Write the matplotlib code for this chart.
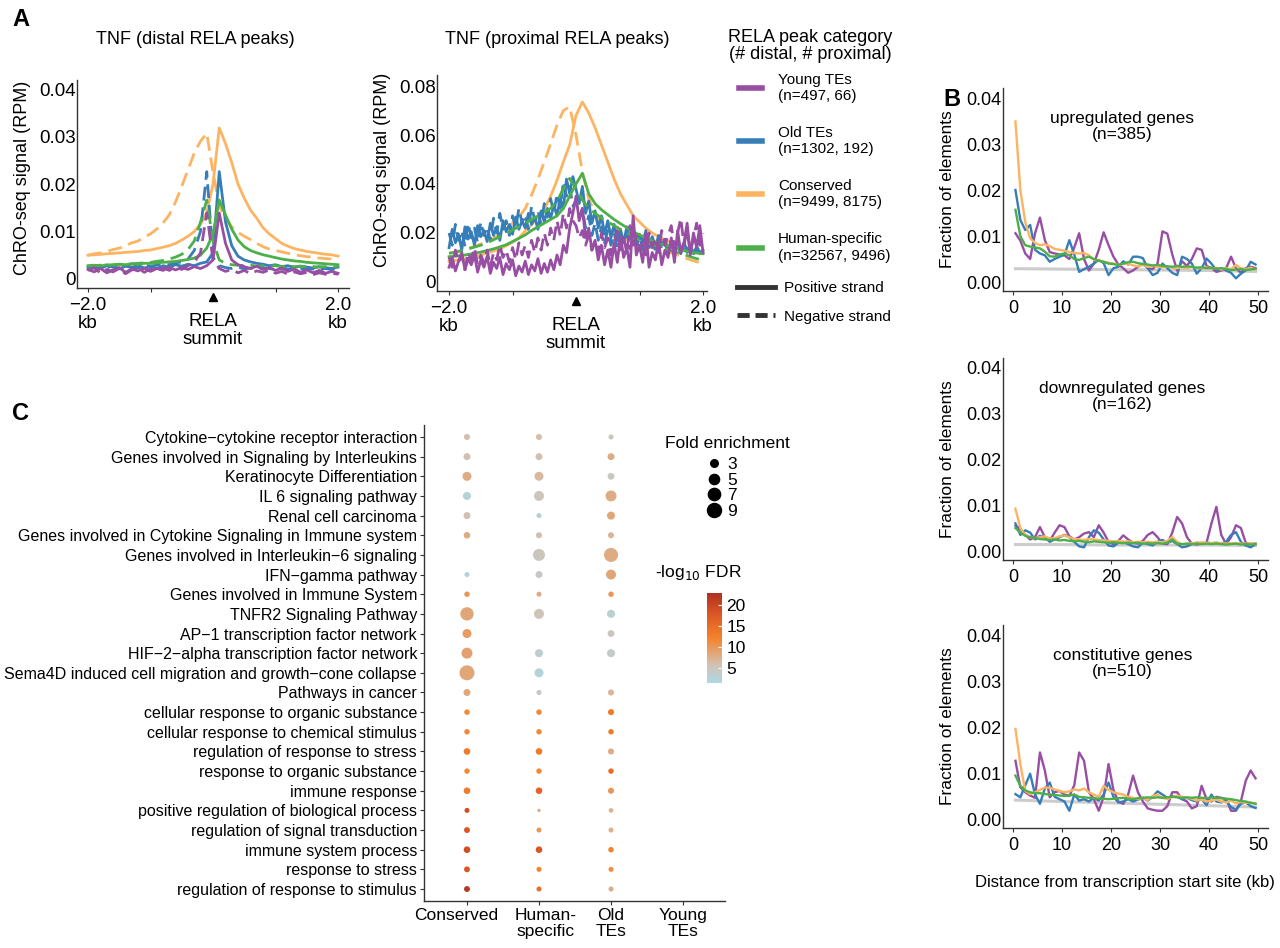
import numpy as np
import matplotlib
matplotlib.use('Agg')
import matplotlib.pyplot as plt
from matplotlib.colors import LinearSegmentedColormap, Normalize
from matplotlib.cm import ScalarMappable
from matplotlib.lines import Line2D
from matplotlib.transforms import ScaledTranslation

plt.rcParams['font.family'] = ['Liberation Sans', 'DejaVu Sans']

# ---------------- data ----------------
categories = ['Young TEs', 'Old TEs', 'Conserved', 'Human-specific']
category_n = ['(n=497, 66)', '(n=1302, 192)', '(n=9499, 8175)', '(n=32567, 9496)']
category_colors = ['#984EA3', '#377EB8', '#FDB462', '#4DAF4A']

# panel A: ChRO-seq profiles around RELA summit (-2 .. 2 kb), distal peaks
distal_cons_pos = [0.0050, 0.0051, 0.0052, 0.0053, 0.0054, 0.0055, 0.0056, 0.0057, 0.0058, 0.0060,
                   0.0061, 0.0064, 0.0067, 0.0070, 0.0075, 0.0082, 0.0090, 0.0100, 0.0115, 0.0140,
                   0.0200, 0.0318, 0.0285, 0.0245, 0.0200, 0.0170, 0.0145, 0.0128, 0.0108, 0.0095,
                   0.0085, 0.0075, 0.0069, 0.0064, 0.0061, 0.0058, 0.0056, 0.0054, 0.0052, 0.0051, 0.0048]
distal_cons_neg = [0.0050, 0.0053, 0.0055, 0.0058, 0.0062, 0.0065, 0.0070, 0.0076, 0.0080, 0.0088,
                   0.0095, 0.0105, 0.0118, 0.0135, 0.0162, 0.0195, 0.0230, 0.0265, 0.0290, 0.0307,
                   0.0225, 0.0155, 0.0125, 0.0110, 0.0098, 0.0090, 0.0083, 0.0075, 0.0068, 0.0063,
                   0.0060, 0.0057, 0.0054, 0.0051, 0.0049, 0.0047, 0.0046, 0.0044, 0.0043, 0.0042, 0.0040]
distal_old_pos = [0.0024, 0.0027, 0.0022, 0.0028, 0.0025, 0.0021, 0.0027, 0.0024, 0.0029, 0.0023,
                  0.0026, 0.0022, 0.0028, 0.0025, 0.0030, 0.0027, 0.0031, 0.0028, 0.0033, 0.0036,
                  0.0055, 0.0226, 0.0120, 0.0070, 0.0048, 0.0040, 0.0036, 0.0033, 0.0031, 0.0028,
                  0.0030, 0.0026, 0.0028, 0.0024, 0.0027, 0.0025, 0.0023, 0.0026, 0.0024, 0.0022, 0.0025]
distal_old_neg = [0.0026, 0.0023, 0.0029, 0.0024, 0.0027, 0.0022, 0.0028, 0.0025, 0.0023, 0.0030,
                  0.0027, 0.0029, 0.0032, 0.0030, 0.0034, 0.0036, 0.0042, 0.0060, 0.0100, 0.0226,
                  0.0045, 0.0028, 0.0024, 0.0022, 0.0025, 0.0021, 0.0023, 0.0020, 0.0024, 0.0022,
                  0.0020, 0.0023, 0.0021, 0.0019, 0.0022, 0.0020, 0.0021, 0.0019, 0.0022, 0.0020, 0.0021]
distal_human_pos = [0.0028, 0.0029, 0.0027, 0.0030, 0.0029, 0.0031, 0.0030, 0.0032, 0.0031, 0.0033,
                    0.0033, 0.0034, 0.0035, 0.0036, 0.0037, 0.0039, 0.0041, 0.0044, 0.0050, 0.0065,
                    0.0095, 0.0166, 0.0135, 0.0105, 0.0082, 0.0068, 0.0060, 0.0055, 0.0051, 0.0048,
                    0.0045, 0.0042, 0.0040, 0.0038, 0.0037, 0.0035, 0.0034, 0.0033, 0.0032, 0.0031, 0.0030]
distal_human_neg = [0.0027, 0.0028, 0.0029, 0.0028, 0.0030, 0.0031, 0.0030, 0.0032, 0.0033, 0.0034,
                    0.0035, 0.0037, 0.0039, 0.0042, 0.0046, 0.0052, 0.0062, 0.0080, 0.0120, 0.0166,
                    0.0080, 0.0040, 0.0033, 0.0030, 0.0029, 0.0028, 0.0029, 0.0027, 0.0028, 0.0027,
                    0.0028, 0.0026, 0.0027, 0.0026, 0.0027, 0.0025, 0.0026, 0.0025, 0.0026, 0.0025, 0.0026]
distal_young_pos = [0.0020, 0.0015, 0.0022, 0.0013, 0.0019, 0.0024, 0.0014, 0.0021, 0.0017, 0.0023,
                    0.0016, 0.0022, 0.0018, 0.0025, 0.0019, 0.0024, 0.0020, 0.0026, 0.0022, 0.0028,
                    0.0040, 0.0139, 0.0075, 0.0040, 0.0030, 0.0026, 0.0022, 0.0027, 0.0020, 0.0024,
                    0.0018, 0.0023, 0.0016, 0.0021, 0.0014, 0.0019, 0.0013, 0.0018, 0.0012, 0.0016, 0.0012]
distal_young_neg = [0.0018, 0.0024, 0.0012, 0.0020, 0.0015, 0.0022, 0.0011, 0.0019, 0.0023, 0.0014,
                    0.0021, 0.0016, 0.0024, 0.0018, 0.0026, 0.0020, 0.0028, 0.0035, 0.0055, 0.0139,
                    0.0040, 0.0022, 0.0016, 0.0020, 0.0013, 0.0018, 0.0011, 0.0017, 0.0014, 0.0019,
                    0.0012, 0.0016, 0.0010, 0.0015, 0.0011, 0.0014, 0.0009, 0.0013, 0.0010, 0.0012, 0.0010]

# proximal peaks
prox_cons_pos = [0.0083, 0.0088, 0.0092, 0.0097, 0.0102, 0.0110, 0.0118, 0.0126, 0.0135, 0.0148,
                 0.0162, 0.0180, 0.0208, 0.0235, 0.0262, 0.0295, 0.0350, 0.0415, 0.0490, 0.0560,
                 0.0680, 0.0735, 0.0690, 0.0630, 0.0560, 0.0490, 0.0420, 0.0360, 0.0315, 0.0270,
                 0.0245, 0.0220, 0.0200, 0.0185, 0.0172, 0.0160, 0.0148, 0.0138, 0.0130, 0.0122, 0.0117]
prox_cons_neg = [0.0117, 0.0122, 0.0130, 0.0137, 0.0145, 0.0155, 0.0165, 0.0178, 0.0195, 0.0215,
                 0.0240, 0.0265, 0.0300, 0.0355, 0.0420, 0.0490, 0.0565, 0.0640, 0.0700, 0.0715,
                 0.0600, 0.0450, 0.0340, 0.0280, 0.0245, 0.0220, 0.0200, 0.0185, 0.0172, 0.0162,
                 0.0155, 0.0148, 0.0140, 0.0132, 0.0125, 0.0118, 0.0110, 0.0100, 0.0090, 0.0082, 0.0076]
prox_human_pos = [0.0103, 0.0105, 0.0108, 0.0112, 0.0117, 0.0122, 0.0128, 0.0135, 0.0143, 0.0152,
                  0.0165, 0.0178, 0.0192, 0.0210, 0.0225, 0.0240, 0.0255, 0.0270, 0.0300, 0.0350,
                  0.0400, 0.0444, 0.0360, 0.0320, 0.0295, 0.0275, 0.0255, 0.0238, 0.0222, 0.0205,
                  0.0192, 0.0180, 0.0168, 0.0158, 0.0150, 0.0142, 0.0135, 0.0128, 0.0122, 0.0118, 0.0115]
prox_human_neg = [0.0117, 0.0121, 0.0128, 0.0135, 0.0142, 0.0150, 0.0160, 0.0172, 0.0185, 0.0198,
                  0.0212, 0.0226, 0.0240, 0.0255, 0.0270, 0.0285, 0.0300, 0.0330, 0.0380, 0.0423,
                  0.0380, 0.0335, 0.0300, 0.0280, 0.0262, 0.0245, 0.0230, 0.0215, 0.0200, 0.0185,
                  0.0172, 0.0162, 0.0152, 0.0143, 0.0135, 0.0127, 0.0120, 0.0112, 0.0103, 0.0095, 0.0090]
prox_old_pos = [0.0140, 0.0215, 0.0160, 0.0195, 0.0130, 0.0225, 0.0175, 0.0205, 0.0150, 0.0230,
                0.0185, 0.0210, 0.0165, 0.0240, 0.0190, 0.0225, 0.0170, 0.0250, 0.0205, 0.0235,
                0.0195, 0.0265, 0.0215, 0.0250, 0.0220, 0.0280, 0.0235, 0.0265, 0.0215, 0.0290,
                0.0245, 0.0300, 0.0260, 0.0315, 0.0270, 0.0340, 0.0300, 0.0420, 0.0360, 0.0430,
                0.0380, 0.0320, 0.0390, 0.0280, 0.0330, 0.0240, 0.0290, 0.0220, 0.0270, 0.0195,
                0.0250, 0.0180, 0.0235, 0.0170, 0.0215, 0.0160, 0.0225, 0.0175, 0.0205, 0.0150,
                0.0195, 0.0160, 0.0210, 0.0145, 0.0185, 0.0140, 0.0190, 0.0150, 0.0175, 0.0130,
                0.0170, 0.0140, 0.0165, 0.0125, 0.0160, 0.0130, 0.0150, 0.0115, 0.0145, 0.0120, 0.0130]
prox_old_neg = [0.0200, 0.0150, 0.0235, 0.0170, 0.0210, 0.0145, 0.0240, 0.0180, 0.0220, 0.0160,
                0.0245, 0.0190, 0.0225, 0.0170, 0.0260, 0.0200, 0.0280, 0.0215, 0.0250, 0.0190,
                0.0270, 0.0220, 0.0300, 0.0240, 0.0275, 0.0215, 0.0310, 0.0250, 0.0290, 0.0235,
                0.0320, 0.0265, 0.0340, 0.0280, 0.0360, 0.0300, 0.0410, 0.0350, 0.0390, 0.0310,
                0.0330, 0.0260, 0.0300, 0.0220, 0.0270, 0.0190, 0.0240, 0.0170, 0.0225, 0.0160,
                0.0210, 0.0150, 0.0200, 0.0140, 0.0190, 0.0155, 0.0205, 0.0135, 0.0180, 0.0145,
                0.0190, 0.0130, 0.0175, 0.0140, 0.0185, 0.0125, 0.0170, 0.0135, 0.0160, 0.0120,
                0.0165, 0.0125, 0.0150, 0.0115, 0.0155, 0.0120, 0.0140, 0.0110, 0.0135, 0.0115, 0.0125]
prox_young_pos = [0.0060, 0.0100, 0.0045, 0.0085, 0.0120, 0.0050, 0.0095, 0.0070, 0.0110, 0.0040,
                  0.0090, 0.0060, 0.0105, 0.0035, 0.0080, 0.0055, 0.0100, 0.0030, 0.0075, 0.0050,
                  0.0090, 0.0025, 0.0065, 0.0040, 0.0085, 0.0030, 0.0070, 0.0045, 0.0095, 0.0035,
                  0.0075, 0.0040, 0.0090, 0.0050, 0.0110, 0.0070, 0.0150, 0.0120, 0.0220, 0.0280,
                  0.0350, 0.0250, 0.0300, 0.0180, 0.0220, 0.0130, 0.0170, 0.0090, 0.0150, 0.0070,
                  0.0130, 0.0060, 0.0160, 0.0080, 0.0190, 0.0100, 0.0140, 0.0060, 0.0270, 0.0110,
                  0.0150, 0.0080, 0.0200, 0.0060, 0.0120, 0.0090, 0.0170, 0.0070, 0.0130, 0.0100,
                  0.0180, 0.0080, 0.0210, 0.0120, 0.0160, 0.0240, 0.0110, 0.0200, 0.0140, 0.0230, 0.0120]
prox_young_neg = [0.0100, 0.0060, 0.0130, 0.0080, 0.0110, 0.0050, 0.0120, 0.0090, 0.0140, 0.0070,
                  0.0110, 0.0080, 0.0130, 0.0060, 0.0120, 0.0090, 0.0150, 0.0100, 0.0130, 0.0080,
                  0.0140, 0.0090, 0.0160, 0.0110, 0.0150, 0.0100, 0.0170, 0.0120, 0.0180, 0.0130,
                  0.0200, 0.0150, 0.0220, 0.0170, 0.0250, 0.0190, 0.0280, 0.0220, 0.0300, 0.0250,
                  0.0230, 0.0180, 0.0210, 0.0150, 0.0190, 0.0130, 0.0170, 0.0120, 0.0200, 0.0140,
                  0.0180, 0.0110, 0.0160, 0.0210, 0.0130, 0.0180, 0.0120, 0.0230, 0.0150, 0.0190,
                  0.0130, 0.0170, 0.0110, 0.0200, 0.0140, 0.0180, 0.0120, 0.0210, 0.0150, 0.0190,
                  0.0230, 0.0140, 0.0200, 0.0260, 0.0150, 0.0210, 0.0120, 0.0180, 0.0240, 0.0150, 0.0200]

# panel B: fraction of elements vs distance from TSS (kb)
tss_kb = np.arange(0.5, 50, 1.0)
bg_kb = [0.5, 10, 20, 30, 40, 49.5]

up_young = [0.0106, 0.0090, 0.0062, 0.0050, 0.0106, 0.0140, 0.0091, 0.0065, 0.0062, 0.0060,
            0.0058, 0.0050, 0.0075, 0.0106, 0.0050, 0.0025, 0.0040, 0.0070, 0.0108, 0.0080,
            0.0055, 0.0038, 0.0030, 0.0020, 0.0025, 0.0033, 0.0040, 0.0030, 0.0028, 0.0040,
            0.0110, 0.0105, 0.0060, 0.0025, 0.0045, 0.0035, 0.0050, 0.0073, 0.0070, 0.0035,
            0.0030, 0.0022, 0.0025, 0.0030, 0.0055, 0.0030, 0.0020, 0.0030, 0.0033, 0.0030]
up_old = [0.0200, 0.0135, 0.0113, 0.0124, 0.0070, 0.0062, 0.0058, 0.0044, 0.0050, 0.0055,
          0.0059, 0.0091, 0.0060, 0.0022, 0.0028, 0.0033, 0.0040, 0.0048, 0.0041, 0.0015,
          0.0030, 0.0033, 0.0045, 0.0038, 0.0055, 0.0055, 0.0052, 0.0030, 0.0015, 0.0020,
          0.0040, 0.0030, 0.0020, 0.0015, 0.0055, 0.0050, 0.0040, 0.0018, 0.0030, 0.0051,
          0.0040, 0.0025, 0.0030, 0.0025, 0.0020, 0.0008, 0.0018, 0.0025, 0.0044, 0.0038]
up_cons = [0.0349, 0.0200, 0.0130, 0.0095, 0.0085, 0.0080, 0.0082, 0.0078, 0.0072, 0.0070,
           0.0068, 0.0065, 0.0063, 0.0062, 0.0063, 0.0058, 0.0048, 0.0047, 0.0044, 0.0042,
           0.0040, 0.0037, 0.0039, 0.0040, 0.0036, 0.0034, 0.0037, 0.0033, 0.0035, 0.0033,
           0.0032, 0.0034, 0.0031, 0.0030, 0.0032, 0.0030, 0.0033, 0.0031, 0.0030, 0.0032,
           0.0029, 0.0031, 0.0027, 0.0030, 0.0028, 0.0037, 0.0030, 0.0028, 0.0031, 0.0027]
up_human = [0.0157, 0.0100, 0.0080, 0.0077, 0.0075, 0.0073, 0.0066, 0.0056, 0.0055, 0.0060,
            0.0062, 0.0058, 0.0050, 0.0048, 0.0052, 0.0055, 0.0050, 0.0046, 0.0044, 0.0040,
            0.0039, 0.0037, 0.0040, 0.0043, 0.0044, 0.0041, 0.0039, 0.0038, 0.0036, 0.0037,
            0.0035, 0.0034, 0.0033, 0.0035, 0.0033, 0.0034, 0.0033, 0.0031, 0.0032, 0.0030,
            0.0031, 0.0029, 0.0030, 0.0028, 0.0026, 0.0027, 0.0028, 0.0026, 0.0027, 0.0029]
up_bg = [0.0029, 0.0028, 0.0027, 0.0026, 0.0025, 0.0023]

down_young = [0.0055, 0.0048, 0.0035, 0.0025, 0.0030, 0.0052, 0.0030, 0.0022, 0.0040, 0.0056,
              0.0052, 0.0032, 0.0025, 0.0030, 0.0038, 0.0041, 0.0030, 0.0056, 0.0040, 0.0020,
              0.0015, 0.0022, 0.0034, 0.0025, 0.0018, 0.0016, 0.0022, 0.0035, 0.0041, 0.0030,
              0.0016, 0.0015, 0.0040, 0.0074, 0.0060, 0.0030, 0.0016, 0.0014, 0.0016, 0.0018,
              0.0060, 0.0096, 0.0035, 0.0015, 0.0030, 0.0056, 0.0050, 0.0018, 0.0015, 0.0016]
down_old = [0.0060, 0.0035, 0.0045, 0.0040, 0.0025, 0.0033, 0.0030, 0.0020, 0.0025, 0.0030,
            0.0035, 0.0030, 0.0020, 0.0010, 0.0008, 0.0030, 0.0045, 0.0040, 0.0025, 0.0012,
            0.0010, 0.0018, 0.0020, 0.0015, 0.0010, 0.0008, 0.0018, 0.0015, 0.0012, 0.0020,
            0.0024, 0.0018, 0.0022, 0.0015, 0.0008, 0.0010, 0.0015, 0.0018, 0.0016, 0.0018,
            0.0017, 0.0018, 0.0016, 0.0020, 0.0035, 0.0041, 0.0020, 0.0012, 0.0008, 0.0015]
down_cons = [0.0092, 0.0050, 0.0035, 0.0030, 0.0028, 0.0030, 0.0032, 0.0027, 0.0028, 0.0032,
             0.0034, 0.0030, 0.0026, 0.0025, 0.0024, 0.0026, 0.0025, 0.0024, 0.0023, 0.0022,
             0.0021, 0.0022, 0.0020, 0.0021, 0.0019, 0.0020, 0.0019, 0.0020, 0.0019, 0.0020,
             0.0019, 0.0022, 0.0030, 0.0020, 0.0014, 0.0016, 0.0017, 0.0018, 0.0019, 0.0018,
             0.0017, 0.0018, 0.0017, 0.0016, 0.0017, 0.0017, 0.0016, 0.0016, 0.0017, 0.0015]
down_human = [0.0050, 0.0040, 0.0033, 0.0030, 0.0028, 0.0026, 0.0025, 0.0024, 0.0025, 0.0023,
              0.0024, 0.0022, 0.0021, 0.0022, 0.0020, 0.0019, 0.0021, 0.0020, 0.0019, 0.0018,
              0.0019, 0.0018, 0.0017, 0.0018, 0.0017, 0.0018, 0.0016, 0.0017, 0.0016, 0.0017,
              0.0016, 0.0018, 0.0025, 0.0016, 0.0015, 0.0016, 0.0015, 0.0016, 0.0015, 0.0016,
              0.0015, 0.0016, 0.0015, 0.0014, 0.0015, 0.0016, 0.0014, 0.0015, 0.0014, 0.0015]
down_bg = [0.0014, 0.0014, 0.0013, 0.0013, 0.0013, 0.0012]

const_young = [0.0128, 0.0071, 0.0060, 0.0053, 0.0048, 0.0146, 0.0107, 0.0049, 0.0060, 0.0063,
               0.0055, 0.0052, 0.0075, 0.0146, 0.0128, 0.0060, 0.0045, 0.0020, 0.0050, 0.0121,
               0.0065, 0.0040, 0.0035, 0.0055, 0.0096, 0.0060, 0.0040, 0.0025, 0.0022, 0.0020,
               0.0020, 0.0030, 0.0060, 0.0060, 0.0045, 0.0040, 0.0025, 0.0030, 0.0074, 0.0045,
               0.0040, 0.0050, 0.0048, 0.0045, 0.0020, 0.0020, 0.0040, 0.0085, 0.0107, 0.0090]
const_old = [0.0056, 0.0049, 0.0075, 0.0100, 0.0055, 0.0035, 0.0068, 0.0081, 0.0050, 0.0045,
             0.0040, 0.0020, 0.0055, 0.0042, 0.0045, 0.0040, 0.0048, 0.0042, 0.0055, 0.0081,
             0.0050, 0.0038, 0.0040, 0.0045, 0.0040, 0.0044, 0.0048, 0.0042, 0.0050, 0.0062,
             0.0055, 0.0048, 0.0052, 0.0050, 0.0045, 0.0048, 0.0043, 0.0040, 0.0045, 0.0032,
             0.0055, 0.0040, 0.0038, 0.0042, 0.0028, 0.0022, 0.0035, 0.0038, 0.0030, 0.0026]
const_cons = [0.0197, 0.0121, 0.0063, 0.0056, 0.0060, 0.0065, 0.0070, 0.0070, 0.0066, 0.0063,
              0.0060, 0.0062, 0.0066, 0.0064, 0.0068, 0.0060, 0.0055, 0.0050, 0.0074, 0.0065,
              0.0060, 0.0057, 0.0055, 0.0050, 0.0048, 0.0045, 0.0048, 0.0043, 0.0052, 0.0055,
              0.0048, 0.0045, 0.0050, 0.0053, 0.0050, 0.0048, 0.0046, 0.0042, 0.0044, 0.0040,
              0.0042, 0.0044, 0.0040, 0.0038, 0.0042, 0.0036, 0.0039, 0.0037, 0.0038, 0.0036]
const_human = [0.0096, 0.0074, 0.0064, 0.0060, 0.0058, 0.0058, 0.0056, 0.0055, 0.0054, 0.0053,
               0.0052, 0.0053, 0.0055, 0.0050, 0.0049, 0.0048, 0.0047, 0.0046, 0.0046, 0.0045,
               0.0046, 0.0047, 0.0048, 0.0046, 0.0045, 0.0047, 0.0048, 0.0049, 0.0048, 0.0049,
               0.0048, 0.0049, 0.0050, 0.0049, 0.0048, 0.0049, 0.0048, 0.0049, 0.0048, 0.0047,
               0.0049, 0.0048, 0.0047, 0.0046, 0.0045, 0.0043, 0.0041, 0.0040, 0.0037, 0.0035]
const_bg = [0.0043, 0.0040, 0.0037, 0.0034, 0.0031, 0.0028]

# panel C: pathway enrichment
pathways = ['Cytokine\u2212cytokine receptor interaction',
            'Genes involved in Signaling by Interleukins',
            'Keratinocyte Differentiation',
            'IL 6 signaling pathway',
            'Renal cell carcinoma',
            'Genes involved in Cytokine Signaling in Immune system',
            'Genes involved in Interleukin\u22126 signaling',
            'IFN\u2212gamma pathway',
            'Genes involved in Immune System',
            'TNFR2 Signaling Pathway',
            'AP\u22121 transcription factor network',
            'HIF\u22122\u2212alpha transcription factor network',
            'Sema4D induced cell migration and growth\u2212cone collapse',
            'Pathways in cancer',
            'cellular response to organic substance',
            'cellular response to chemical stimulus',
            'regulation of response to stress',
            'response to organic substance',
            'immune response',
            'positive regulation of biological process',
            'regulation of signal transduction',
            'immune system process',
            'response to stress',
            'regulation of response to stimulus']
groups = ['Conserved', 'Human-\nspecific', 'Old\nTEs', 'Young\nTEs']
nan = np.nan
fold_conserved = [2.1, 2.6, 4.0, 3.3, 2.6, 2.4, nan, 1.6, 1.8, 8.2, 4.0, 5.7, 10.2, 2.6,
                  1.8, 1.8, 2.4, 1.8, 2.4, 1.6, 2.0, 2.4, 2.0, 2.0]
fold_human = [2.1, 2.6, 4.0, 4.8, 1.6, 2.1, 6.7, 2.6, 1.6, 4.8, nan, 3.3, 4.0, 1.6,
              1.8, 1.8, 2.4, 1.8, 2.4, 1.0, 1.6, 2.4, 1.6, 1.6]
fold_old = [1.6, 2.6, 2.5, 5.7, 3.3, 2.1, 9.0, 4.8, 1.8, 3.3, 2.5, 3.3, nan, 2.1,
            2.1, 1.8, 2.1, 1.8, 2.1, 1.4, 1.6, 1.8, 1.6, 1.6]
fold_young = [nan] * 24
fdr_conserved = [6, 6, 8, 2.5, 6, 8, nan, 2.5, 10, 8.5, 9.5, 9, 8.5, 8.5,
                 11.5, 11.5, 13, 11.5, 13, 19, 18, 19, 18, 22]
fdr_human = [6, 6, 6.5, 5, 2.5, 6, 5, 4.5, 8, 5.5, nan, 3.5, 2.5, 4.5,
             11.5, 11.5, 13, 11.5, 16, 8, 10, 18, 12, 15]
fdr_old = [5, 8, 4.5, 8, 8.5, 7, 8, 8.5, 10, 3, 5, 4, nan, 7,
           13, 13, 8, 15, 10, 7.5, 7.5, 12, 11, 8]
fdr_young = [nan] * 24
fold_breaks = [3, 5, 7, 9]


# ---------------- helpers ----------------
def box(x0, y0, x1, y1):
    return [x0 / 1280, 1 - y1 / 948, (x1 - x0) / 1280, (y1 - y0) / 948]


def classic(ax):
    for s in ['top', 'right']:
        ax.spines[s].set_visible(False)
    for s in ['left', 'bottom']:
        ax.spines[s].set_color('#333333')
        ax.spines[s].set_linewidth(1.0)
    ax.tick_params(colors='#333333', labelcolor='black', length=3, width=0.8)


def dot_size(f):
    return 12 * np.asarray(f, dtype=float) - 6


fig = plt.figure(figsize=(12.8, 9.48), dpi=100)

# ---------------- panel A ----------------
color_of = dict(zip(categories, category_colors))
distal = {'Conserved': (distal_cons_pos, distal_cons_neg),
          'Old TEs': (distal_old_pos, distal_old_neg),
          'Human-specific': (distal_human_pos, distal_human_neg),
          'Young TEs': (distal_young_pos, distal_young_neg)}
proximal = {'Conserved': (prox_cons_pos, prox_cons_neg),
            'Old TEs': (prox_old_pos, prox_old_neg),
            'Human-specific': (prox_human_pos, prox_human_neg),
            'Young TEs': (prox_young_pos, prox_young_neg)}
draw_order = ['Conserved', 'Old TEs', 'Human-specific', 'Young TEs']


def profile(ax, curves, ylim, yticks, ylabels, xlim):
    for cat in draw_order:
        pos, neg = curves[cat]
        ax.plot(np.linspace(-2, 2, len(neg)), neg, color=color_of[cat], lw=2.0,
                ls=(0, (5, 2.5)))
        ax.plot(np.linspace(-2, 2, len(pos)), pos, color=color_of[cat], lw=2.0)
    classic(ax)
    ax.set_xlim(*xlim)
    ax.set_ylim(*ylim)
    ax.set_yticks(yticks)
    ax.set_yticklabels(ylabels, fontsize=13.5)
    ax.tick_params(axis='y', length=0, pad=1)
    ax.set_xticks([-2, -1, 1, 2])
    ax.set_xticklabels(['\u22122.0\nkb', '', '', '2.0\nkb'], fontsize=13.5, linespacing=1.05)
    ax.plot([0], [-0.045], marker='^', color='black', ms=6, clip_on=False,
            transform=ax.get_xaxis_transform())
    ax.text(0, -0.12, 'RELA\nsummit', transform=ax.get_xaxis_transform(),
            ha='center', va='top', fontsize=13.5, linespacing=1.05)
    ax.set_ylabel('ChRO-seq signal (RPM)', fontsize=13)


axA1 = fig.add_axes(box(77, 80, 349, 288))
profile(axA1, distal, (-0.0019, 0.0419), [0, 0.01, 0.02, 0.03, 0.04],
        ['0', '0.01', '0.02', '0.03', '0.04'], (-2.176, 2.176))
axA1.yaxis.set_label_coords(-0.17, 0.53)
axA2 = fig.add_axes(box(437, 75, 707, 291))
profile(axA2, proximal, (-0.0037, 0.0845), [0, 0.02, 0.04, 0.06, 0.08],
        ['0', '0.02', '0.04', '0.06', '0.08'], (-2.19, 2.063))
axA2.yaxis.set_label_coords(-0.17, 0.56)

fig.text(195 / 1280, 1 - 40 / 948, 'TNF (distal RELA peaks)', ha='center', va='center', fontsize=13)
fig.text(557 / 1280, 1 - 40 / 948, 'TNF (proximal RELA peaks)', ha='center', va='center', fontsize=13)

fig.text(810 / 1280, 1 - 46 / 948, 'RELA peak category\n(# distal, # proximal)', ha='center',
         va='center', fontsize=13, linespacing=1.05)
cat_handles = [Line2D([], [], color=c, lw=4) for c in category_colors]
cat_labels = [f'{c}\n{n}' for c, n in zip(categories, category_n)]
fig.legend(cat_handles, cat_labels, loc='upper left',
           bbox_to_anchor=(739 / 1280, 1 - 73 / 948), frameon=False,
           fontsize=11, labelspacing=1.5, handlelength=1.5,
           handletextpad=1.05, borderpad=0, borderaxespad=0)
strand_handles = [Line2D([], [], color='#333333', lw=3.5),
                  Line2D([], [], color='#333333', lw=3.5, ls=(0, (2.5, 1.2)))]
fig.legend(strand_handles, ['Positive strand', 'Negative strand'], loc='upper left',
           bbox_to_anchor=(737 / 1280, 1 - 281 / 948), frameon=False, fontsize=11,
           labelspacing=0.95, handlelength=2.5, handletextpad=0.6, borderpad=0,
           borderaxespad=0)

# ---------------- panel B ----------------
b_sets = [('upregulated genes\n(n=385)', (up_young, up_old, up_cons, up_human), up_bg, (88, 291), 282),
          ('downregulated genes\n(n=162)', (down_young, down_old, down_cons, down_human), down_bg, (358, 560), 551),
          ('constitutive genes\n(n=510)', (const_young, const_old, const_cons, const_human), const_bg, (625, 828), 820)]
for k, (title, series, bg, (top, bottom), zero_px) in enumerate(b_sets):
    ax = fig.add_axes(box(1003, top, 1268, bottom))
    ax.plot(bg_kb, bg, color='#CCCCCC', lw=2.2)
    for vals, col in zip(series, category_colors):
        ax.plot(tss_kb, vals, color=col, lw=1.7)
    classic(ax)
    px_per = 4600.0 if k != 2 else 4625.0
    ax.set_ylim(-(bottom - zero_px) / px_per, (zero_px - top) / px_per)
    ax.set_xlim(-2.04, 52.04)
    ax.set_yticks([0, 0.01, 0.02, 0.03, 0.04])
    ax.set_yticklabels(['0.00', '0.01', '0.02', '0.03', '0.04'], fontsize=13)
    ax.set_xticks([0, 10, 20, 30, 40, 50])
    ax.tick_params(axis='x', labelsize=13)
    ax.tick_params(axis='y', length=0, pad=1)
    ax.set_ylabel('Fraction of elements', fontsize=12.5)
    ax.yaxis.set_label_coords(-0.18, 0.5)
    ax.text(0.45, 0.81, title, transform=ax.transAxes, ha='center', va='center',
            fontsize=12.5, linespacing=1.1)
    if k == 2:
        ax.set_xlabel('Distance from transcription start site (kb)', fontsize=12)
        ax.xaxis.set_label_coords(0.46, -0.23)

# ---------------- panel C ----------------
cmap = LinearSegmentedColormap.from_list(
    'fdr', [(0.0, '#ADD8E6'), (0.2, '#D2C2B4'), (0.5, '#F5822A'),
            (0.75, '#DD5A26'), (1.0, '#B03020')])
norm = Normalize(vmin=1.4, vmax=22.9)

axC = fig.add_axes(box(424, 425, 725, 901))
rows = np.arange(len(pathways))[::-1]
for j, (fold, fdr) in enumerate([(fold_conserved, fdr_conserved), (fold_human, fdr_human),
                                 (fold_old, fdr_old), (fold_young, fdr_young)]):
    fold = np.array(fold, dtype=float)
    fdr = np.array(fdr, dtype=float)
    ok = ~np.isnan(fold)
    if ok.any():
        axC.scatter(np.full(ok.sum(), j), rows[ok], s=dot_size(fold[ok]), c=fdr[ok],
                    cmap=cmap, norm=norm, linewidths=0, zorder=3)
classic(axC)
axC.set_xlim(-0.597, 3.583)
axC.set_ylim(-0.61, 23.61)
axC.set_yticks(rows)
axC.set_yticklabels(pathways, fontsize=11.5)
axC.set_xticks(range(4))
axC.set_xticklabels(groups, fontsize=12.5, linespacing=1.1)
axC.tick_params(length=3, pad=2)
# the first two column labels sit slightly apart, as in the original figure
for lbl, dx in zip(axC.get_xticklabels(), [-11, 7, 0, 0]):
    lbl.set_transform(lbl.get_transform() + ScaledTranslation(dx / 100, 0, fig.dpi_scale_trans))

fig.text(12 / 1280, 1 - 19 / 948, 'A', fontsize=17, weight='bold', va='center')
fig.text(943 / 1280, 1 - 99 / 948, 'B', fontsize=17, weight='bold', va='center')
fig.text(12 / 1280, 1 - 413 / 948, 'C', fontsize=17, weight='bold', va='center')

# size legend
fig.text(665 / 1280, 1 - 443 / 948, 'Fold enrichment', fontsize=12.5, va='center')
size_handles = [Line2D([], [], ls='', marker='o', color='black', ms=np.sqrt(dot_size(f)))
                for f in fold_breaks]
fig.legend(size_handles, [str(f) for f in fold_breaks], loc='upper left',
           bbox_to_anchor=(705 / 1280, 1 - 457 / 948), frameon=False, fontsize=12.5,
           labelspacing=0.02, handlelength=1.0, handletextpad=0.3, borderpad=0,
           borderaxespad=0)

# colour bar
fig.text(655 / 1280, 1 - 573 / 948, '-log$_{10}$ FDR', fontsize=12.5, va='center')
cax = fig.add_axes(box(707, 593, 722, 683))
cb = fig.colorbar(ScalarMappable(norm=norm, cmap=cmap), cax=cax)
cb.outline.set_visible(False)
cb.set_ticks([5, 10, 15, 20])
cax.tick_params(labelsize=12.5, length=3, color='white', direction='in', pad=3)

fig.savefig('out.png', dpi=100)
